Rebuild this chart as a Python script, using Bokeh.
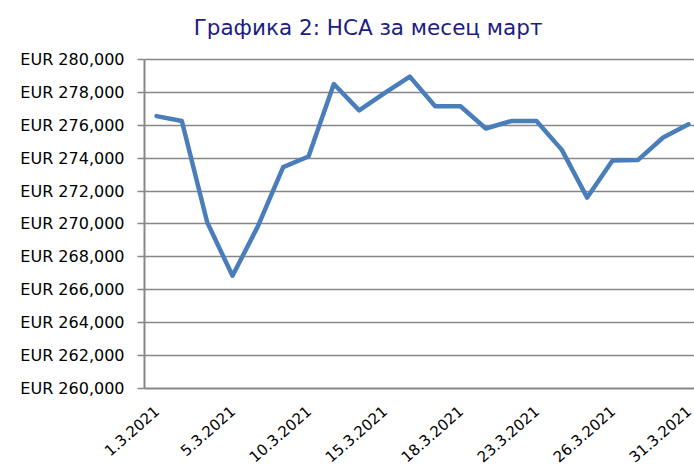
from bokeh.plotting import figure
from bokeh.models import FixedTicker, Range1d, Label, CustomJSTickFormatter
from bokeh.embed import file_html
from bokeh.resources import INLINE

title_text = "Графика 2: НСА за месец март"
dates = ["1.3.2021", "2.3.2021", "4.3.2021", "5.3.2021", "8.3.2021", "9.3.2021",
         "10.3.2021", "11.3.2021", "12.3.2021", "15.3.2021", "16.3.2021", "17.3.2021",
         "18.3.2021", "19.3.2021", "22.3.2021", "23.3.2021", "24.3.2021", "25.3.2021",
         "26.3.2021", "29.3.2021", "30.3.2021", "31.3.2021"]
values = [276550, 276250, 270100, 266850, 269850, 273450, 274100, 278500, 276900,
          277950, 278950, 277150, 277150, 275800, 276250, 276250, 274500, 271600,
          273850, 273880, 275250, 276050]
y_ticks = list(range(260000, 280001, 2000))
x_tick_idx = [0, 3, 6, 9, 12, 15, 18, 21]

FONT = "DejaVu Sans"
GRID = "#878787"

xs = list(range(len(values)))

# frame: x 144..694, y 0..389 (y=280000 at 59px, 16.5 px per 1000)
p = figure(width=694, height=470, output_backend="svg", toolbar_location=None,
           x_range=Range1d(-0.474, 21.237), y_range=Range1d(260000, 283576),
           min_border_left=144, min_border_right=0, min_border_top=0,
           min_border_bottom=81)
p.outline_line_color = None
p.background_fill_color = "white"
p.border_fill_color = "white"

p.line(xs, values, line_color="#4a7ebb", line_width=4.5, line_join="round", line_cap="round")

# y axis
p.yaxis.ticker = FixedTicker(ticks=y_ticks)
p.yaxis.bounds = (260000, 280000)
p.yaxis.formatter = CustomJSTickFormatter(code='return "EUR " + tick.toLocaleString("en-US");')
p.yaxis.axis_line_color = GRID
p.yaxis.axis_line_width = 2
p.yaxis.major_tick_line_color = GRID
p.yaxis.major_tick_line_width = 1.5
p.yaxis.major_tick_out = 7
p.yaxis.major_tick_in = 0
p.yaxis.minor_tick_line_color = None
p.yaxis.major_label_standoff = 13
p.yaxis.major_label_text_font = FONT
p.yaxis.major_label_text_font_size = "16px"
p.yaxis.major_label_text_color = "#000000"

# x axis
p.xaxis.ticker = FixedTicker(ticks=x_tick_idx)
p.xaxis.major_label_overrides = {i: dates[i] for i in x_tick_idx}
p.xaxis.major_label_orientation = 0.72
p.xaxis.axis_line_color = GRID
p.xaxis.axis_line_width = 2
p.xaxis.major_tick_line_color = None
p.xaxis.minor_tick_line_color = None
p.xaxis.major_label_standoff = 14
p.xaxis.major_label_text_font = FONT
p.xaxis.major_label_text_font_size = "15px"
p.xaxis.major_label_text_color = "#000000"

p.xgrid.grid_line_color = None
p.ygrid.ticker = FixedTicker(ticks=y_ticks)
p.ygrid.grid_line_color = GRID
p.ygrid.grid_line_width = 1.5

p.add_layout(Label(x=8.35, y=281939, text=title_text, text_align="center",
                   text_baseline="alphabetic", text_font=FONT, text_font_size="21.5px",
                   text_color="#1c1c84"))

open("out.html", "w").write(file_html(p, INLINE))
